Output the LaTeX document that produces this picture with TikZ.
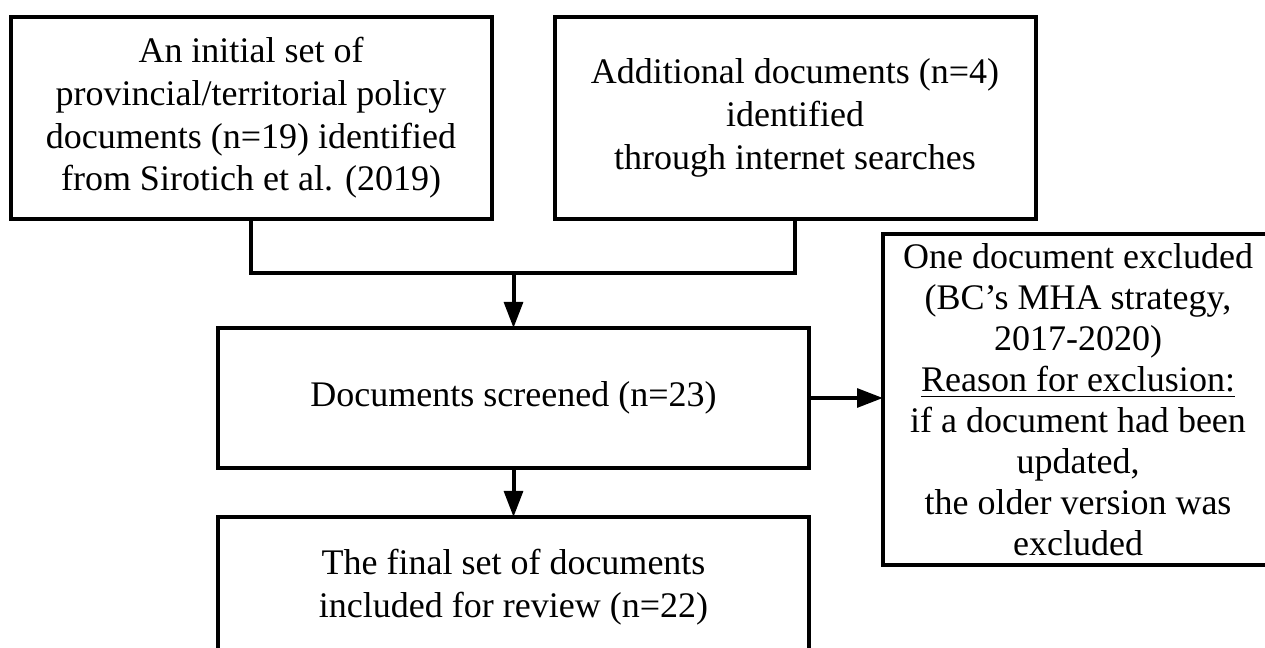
\documentclass[tikz,border=0pt]{standalone}
\usepackage{fontspec}
\setmainfont{Liberation Serif}
\usepackage{tikz}
\usetikzlibrary{positioning,arrows.meta,calc}

\begin{document}
\begin{tikzpicture}[
    node distance=18pt and 18pt,
    % --- Node styles ---
    stepbox/.style={
      rectangle, draw=black, line width=1.2pt,
      font=\fontsize{10.8}{12.8}\selectfont,
      align=center, inner sep=1pt, outer sep=0pt,
    },
    sourcebox/.style={stepbox, minimum width=144.3pt, minimum height=60.6pt},
    mainbox/.style={stepbox, minimum width=177.3pt, minimum height=42pt},
    exclbox/.style={stepbox, minimum width=117pt, minimum height=99.3pt,
      font=\fontsize{10.8}{12.3}\selectfont},
    % --- Arrow styles ---
    link/.style={line width=1.2pt, color=black},
    flow/.style={link, -{Triangle[length=7.8pt, width=5.6pt]}},
  ]

    % fixed frame, same proportions as the original figure
    \useasboundingbox (0,0) rectangle (379.5pt,-194.4pt);

    % ===================== SOURCES =====================
    \node[sourcebox] (initial) at (75.3pt,-35.4pt)
      {An initial set of\\provincial/territorial policy\\documents (n=19) identified\\from Sirotich et al. (2019)};
    \node[sourcebox, right=18.9pt of initial] (additional)
      {Additional documents (n=4)\\identified\\through internet searches};

    % ===================== SCREENING =====================
    \node[mainbox, below=32.7pt of initial, xshift=78.75pt] (screened)
      {Documents screened (n=23)};
    \node[mainbox, below=14.7pt of screened] (final)
      {The final set of documents\\included for review (n=22)};
    \node[exclbox, right=22.2pt of screened, yshift=-0.5pt] (excluded)
      {One document excluded\\(BC’s MHA strategy,\\2017-2020)\\\underline{Reason for exclusion:}\\if a document had been\\updated,\\the older version was\\excluded};

    % ===================== ARROWS =====================
    \coordinate (merge) at ($(initial.south)+(0,-16.2pt)$);
    \draw[link] (initial.south) -- (merge) -| (additional.south);
    \draw[flow] (merge -| screened.north) -- (screened.north);
    \draw[flow] (screened) -- (final);
    \draw[flow] (screened.east) -- (screened.east -| excluded.west);

\end{tikzpicture}
\end{document}
